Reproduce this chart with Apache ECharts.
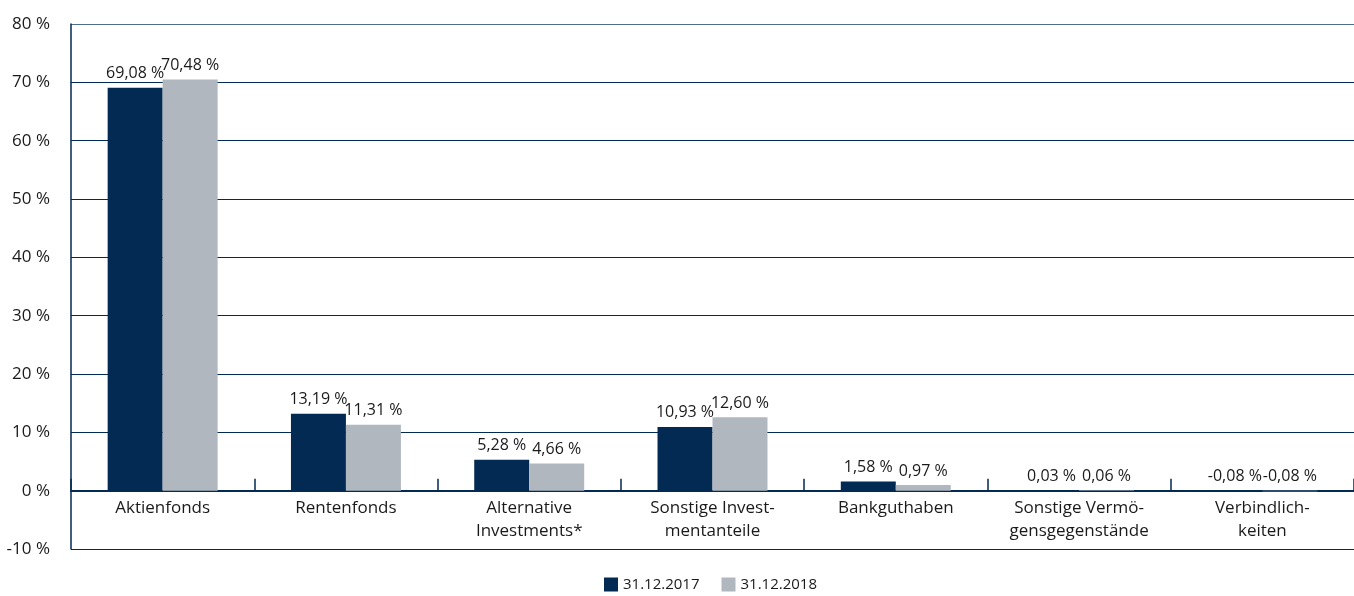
<!DOCTYPE html>
<html>
<head>
<meta charset="utf-8">
<script src="https://cdn.jsdelivr.net/npm/echarts@6/dist/echarts.min.js"></script>
<style>
  html, body { margin: 0; padding: 0; background: #fff; }
  #chart { width: 1354px; height: 596px; }
</style>
</head>
<body>
<div id="chart"></div>
<script>
// Kategorien
const categories = [
  'Aktienfonds',
  'Rentenfonds',
  'Alternative\nInvestments*',
  'Sonstige Invest-\nmentanteile',
  'Bankguthaben',
  'Sonstige Vermö-\ngensgegenstände',
  'Verbindlich-\nkeiten'
]
// Werte in %
const values2017 = [69.08, 13.19, 5.28, 10.93, 1.58, 0.03, -0.08]
const values2018 = [70.48, 11.31, 4.66, 12.60, 0.97, 0.06, -0.08]
const seriesNames = ['31.12.2017', '31.12.2018']

const navy = '#022a52'
const grey = '#b0b7bf'
const font = 'Open Sans'

const fmt = v => v.toFixed(2).replace('.', ',') + ' %'

const chart = echarts.init(document.getElementById('chart'))

const makeSeries = (name, data, color) => ({
  name: name,
  type: 'bar',
  data: data,
  barGap: '0%',
  barCategoryGap: '40%',
  itemStyle: { color: color },
  label: {
    show: true,
    position: 'top',
    distance: 6,
    color: '#1a1a1a',
    fontFamily: font,
    fontSize: 16,
    formatter: p => fmt(p.value)
  }
})

chart.setOption({
  animation: false,
  textStyle: { fontFamily: font },
  grid: { left: 71, right: 0, top: 24, bottom: 47, outerBoundsMode: 'none' },
  legend: {
    bottom: 4,
    left: 604,
    padding: 0,
    itemWidth: 14,
    itemHeight: 14,
    itemGap: 22,
    icon: 'rect',
    textStyle: { color: '#1a1a1a', fontSize: 15, fontFamily: font },
    data: seriesNames
  },
  xAxis: {
    type: 'category',
    data: categories,
    axisLine: { onZero: true, lineStyle: { color: navy, width: 2 } },
    axisTick: { show: true, inside: true, length: 12, lineStyle: { color: navy, width: 1.5 } },
    axisLabel: {
      interval: 0,
      margin: -52,
      color: '#1a1a1a',
      fontSize: 17,
      lineHeight: 23,
      fontFamily: font
    }
  },
  yAxis: {
    type: 'value',
    min: -10,
    max: 80,
    interval: 10,
    axisLine: { show: true, lineStyle: { color: navy, width: 1.5 } },
    axisTick: { show: false },
    splitLine: {
      lineStyle: {
        color: [navy, navy, navy, navy, navy, navy, navy, navy, navy, '#4f6d8c'],
        width: 1.2
      }
    },
    axisLabel: {
      margin: 21,
      color: '#1a1a1a',
      fontSize: 17,
      fontFamily: font,
      formatter: v => v + ' %'
    }
  },
  series: [
    makeSeries(seriesNames[0], values2017, navy),
    makeSeries(seriesNames[1], values2018, grey)
  ]
})
</script>
</body>
</html>
